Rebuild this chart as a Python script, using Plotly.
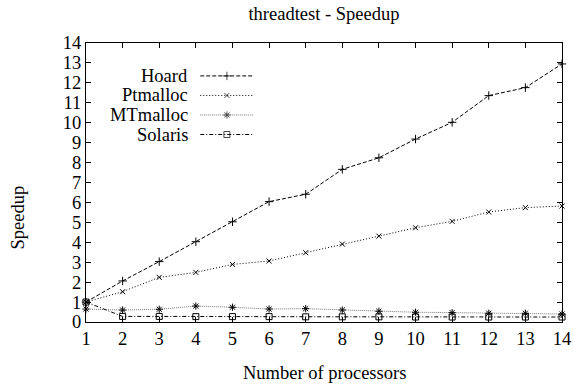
import plotly.graph_objects as go

processors = list(range(1, 15))
hoard = [1.0, 2.06, 3.03, 4.03, 5.03, 6.04, 6.41, 7.66, 8.24, 9.18, 10.02, 11.36, 11.76, 12.95]
ptmalloc = [1.0, 1.52, 2.24, 2.49, 2.89, 3.06, 3.48, 3.91, 4.31, 4.73, 5.05, 5.52, 5.74, 5.82]
mtmalloc = [0.65, 0.6, 0.64, 0.8, 0.74, 0.65, 0.67, 0.6, 0.54, 0.49, 0.47, 0.44, 0.44, 0.4]
solaris = [1.0, 0.28, 0.28, 0.27, 0.27, 0.27, 0.26, 0.26, 0.26, 0.25, 0.25, 0.25, 0.25, 0.25]
names = ["Hoard", "Ptmalloc", "MTmalloc", "Solaris"]
x_ticks = list(range(1, 15))
y_ticks = list(range(0, 15))

FONT = "Liberation Serif"
FS = 18.5

styles = [
    dict(color="black", dash="4px,2px", symbol="cross-thin", size=6),
    dict(color="black", dash="1px,2px", symbol="x-thin", size=5),
    dict(color="#777777", dash="1px,1px", symbol="asterisk", size=6),
    dict(color="black", dash="4px,2px,1px,2px", symbol="square-open", size=6),
]

fig = go.Figure()
for name, ys, st in zip(names, [hoard, ptmalloc, mtmalloc, solaris], styles):
    fig.add_trace(go.Scatter(
        x=processors, y=ys, mode="lines+markers", name=name, showlegend=False,
        cliponaxis=False,
        line=dict(color=st["color"], dash=st["dash"], width=1),
        marker=dict(symbol=st["symbol"], size=st["size"], color="black",
                    line=dict(color="black", width=1)),
    ))

# custom legend (text on left, sample on right), on a hidden overlay axis
leg_y = [0.882, 0.812, 0.742, 0.672]
for name, st, ly in zip(names, styles, leg_y):
    fig.add_trace(go.Scatter(
        x=[0.24, 0.296, 0.352], y=[ly, ly, ly], xaxis="x2", yaxis="y2",
        mode="lines+markers", showlegend=False, hoverinfo="skip",
        line=dict(color=st["color"], dash=st["dash"], width=1),
        marker=dict(symbol=st["symbol"], size=[0, st["size"], 0], color="black",
                    line=dict(color="black", width=1)),
    ))
    fig.add_annotation(x=0.2185, y=ly, xref="x2", yref="y2", text=name,
                       showarrow=False, xanchor="right", yanchor="middle",
                       font=dict(family=FONT, size=FS, color="black"))

fig.add_annotation(x=(17.5 - 86) / 476, y=(322 - 218) / 279, xref="paper", yref="paper",
                   text="Speedup", showarrow=False, textangle=-90,
                   xanchor="center", yanchor="middle",
                   font=dict(family=FONT, size=FS, color="black"))
fig.add_annotation(x=0.5, y=(322 - 373) / 279, xref="paper", yref="paper",
                   text="Number of processors", showarrow=False,
                   xanchor="center", yanchor="middle",
                   font=dict(family=FONT, size=FS, color="black"))

axis_common = dict(showline=True, linecolor="black", linewidth=1, mirror="ticks",
                   ticks="inside", ticklen=5, tickcolor="black", tickwidth=1,
                   showgrid=False, zeroline=False, automargin=False,
                   tickfont=dict(family=FONT, size=FS, color="black"))

fig.update_layout(
    width=573, height=385,
    margin=dict(l=86, r=11, t=43, b=63),
    paper_bgcolor="white", plot_bgcolor="white",
    font=dict(family=FONT, size=FS, color="black"),
    title=dict(text="threadtest - Speedup", x=324 / 573, xanchor="center",
               y=1 - 14 / 385, yanchor="middle",
               font=dict(family=FONT, size=FS, color="black")),
    xaxis=dict(range=[1, 14], tickvals=x_ticks, **axis_common),
    yaxis=dict(range=[0, 14], tickvals=y_ticks, **axis_common),
    xaxis2=dict(overlaying="x", range=[0, 1], visible=False, fixedrange=True),
    yaxis2=dict(overlaying="y", range=[0, 1], visible=False, fixedrange=True),
)

fig.write_html("out.html")
